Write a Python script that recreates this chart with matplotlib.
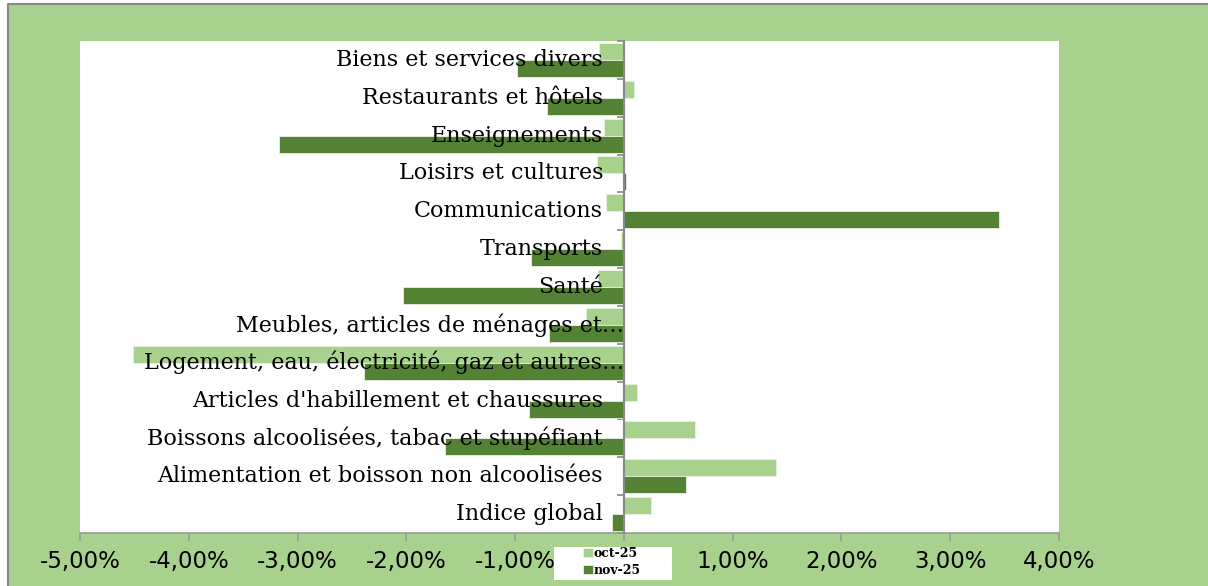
import matplotlib.pyplot as plt
import numpy as np
from matplotlib.ticker import FuncFormatter, FixedLocator
from matplotlib.patches import Rectangle
from matplotlib.lines import Line2D

# categories from bottom to top
categories = [
    "Indice global",
    "Alimentation et boisson non alcoolisées",
    "Boissons alcoolisées, tabac et stupéfiant",
    "Articles d'habillement et chaussures",
    "Logement, eau, électricité, gaz et autres…",
    "Meubles, articles de ménages et…",
    "Santé",
    "Transports",
    "Communications",
    "Loisirs et cultures",
    "Enseignements",
    "Restaurants et hôtels",
    "Biens et services divers",
]
oct_25 = [0.25, 1.40, 0.65, 0.12, -4.51, -0.35, -0.24, -0.03, -0.16, -0.25, -0.18, 0.09, -0.23]
nov_25 = [-0.11, 0.57, -1.64, -0.87, -2.39, -0.69, -2.03, -0.85, 3.45, 0.02, -3.17, -0.71, -0.98]

light = "#a9d18e"
dark = "#548235"
bg = "#a9d18e"
W, H = 1208, 586

fig = plt.figure(figsize=(W/100, H/100), dpi=100, facecolor="white")
# chart area (green) with grey border on top and left only
fig.patches.append(Rectangle((8/W, 0), 1 - 8/W, 1 - 4/H, transform=fig.transFigure,
                             facecolor=bg, edgecolor="none", zorder=-5))
fig.lines.append(Line2D([8/W, 8/W, 1], [0, 1 - 4/H, 1 - 4/H], transform=fig.transFigure,
                        color="#878787", linewidth=1.5, zorder=-4))

ax = fig.add_axes([80/W, (H-533)/H, 979/W, 492/H])
ax.set_facecolor("white")

y = np.arange(len(categories))
h = 0.45
ax.barh(y + h/2, oct_25, height=h, color=light, edgecolor="#e8f2e0", linewidth=0.6,
        label="oct-25", zorder=2)
ax.barh(y - h/2, nov_25, height=h, color=dark, edgecolor="#e8f2e0", linewidth=0.6,
        label="nov-25", zorder=2)

ax.set_xlim(-5, 4)
ax.set_ylim(-0.5, len(categories) - 0.5)
ax.xaxis.set_major_locator(FixedLocator(np.arange(-5, 5, 1)))
ax.xaxis.set_major_formatter(FuncFormatter(lambda v, p: f"{v:.2f}%".replace(".", ",")))

for s in ["top", "right"]:
    ax.spines[s].set_visible(False)
ax.spines["left"].set_position(("data", 0))
ax.spines["left"].set_color("#888888")
ax.spines["left"].set_linewidth(1.5)
ax.spines["left"].set_zorder(3)
ax.spines["bottom"].set_color("#999999")
ax.spines["bottom"].set_linewidth(1.2)

# category boundary ticks on the y axis
ax.yaxis.set_major_locator(FixedLocator(np.arange(-0.5, len(categories), 1)))
ax.yaxis.set_major_formatter(FuncFormatter(lambda v, p: ""))
ax.tick_params(axis="y", which="major", length=5, color="#888888", width=1.2)
ax.tick_params(axis="x", length=6, color="#999999", width=1.2, labelsize=16.5, pad=6)
for t in ax.get_xticklabels():
    t.set_fontfamily("DejaVu Sans")

# category labels drawn over the bars, next to the zero axis
for yi, name in zip(y, categories):
    off = 0 if name.endswith("…") else -15
    ax.annotate(name, xy=(0, yi), xytext=(off, 0), textcoords="offset points",
                ha="right", va="center", fontsize=16, family="DejaVu Serif",
                zorder=5, annotation_clip=False)

# legend in a white box over the axis labels
fig.patches.append(Rectangle((554/W, (H-580)/H), 118/W, 33/H, transform=fig.transFigure,
                             facecolor="white", edgecolor="none", zorder=3))
leg = fig.legend(loc="center", bbox_to_anchor=(612/W, 1 - 562/H), frameon=False,
                 handlelength=0.75, handleheight=0.75, handletextpad=0.1,
                 borderpad=0, labelspacing=0.3,
                 prop={"weight": "bold", "size": 9, "family": "DejaVu Serif"})
leg.set_zorder(6)

fig.savefig("out.png", dpi=100, facecolor="white")
